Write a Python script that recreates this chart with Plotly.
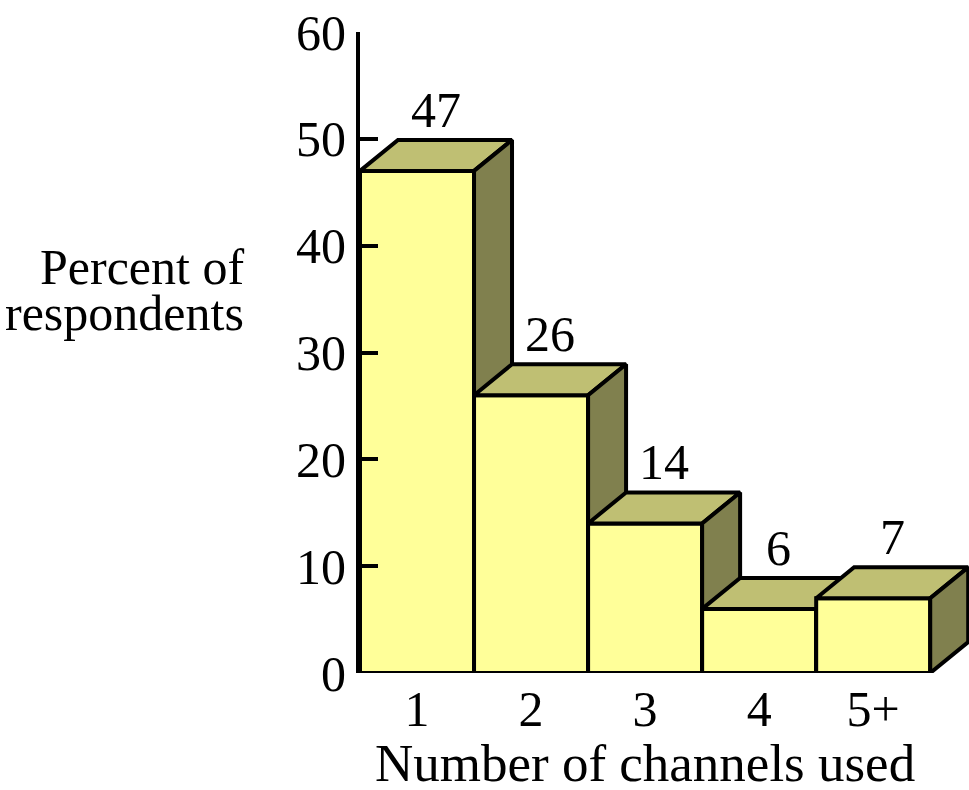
import plotly.graph_objects as go

categories = ["1", "2", "3", "4", "5+"]
values = [47, 26, 14, 6, 7]
y_ticks = [0, 10, 20, 30, 40, 50, 60]

FRONT = "#FFFF99"
TOP = "#BFBF73"
SIDE = "#80804E"
EDGE = "black"
LW = 4
DX = 0.333   # depth offset in x units
DY = 2.9     # depth offset in y units
HALF = 0.5
FONT = "Liberation Serif, Times New Roman, serif"
FS = 50

fig = go.Figure()

for i, v in enumerate(values):
    x0, x1 = i - HALF, i + HALF
    # front face
    fig.add_trace(go.Scatter(
        x=[x0, x1, x1, x0, x0], y=[0, 0, v, v, 0],
        mode="lines", fill="toself", fillcolor=FRONT,
        line=dict(color=EDGE, width=LW), hoverinfo="skip", showlegend=False))
    # top face
    fig.add_trace(go.Scatter(
        x=[x0, x1, x1 + DX, x0 + DX, x0], y=[v, v, v + DY, v + DY, v],
        mode="lines", fill="toself", fillcolor=TOP,
        line=dict(color=EDGE, width=LW), hoverinfo="skip", showlegend=False))
    # side face
    fig.add_trace(go.Scatter(
        x=[x1, x1 + DX, x1 + DX, x1, x1], y=[0, DY, v + DY, v, 0],
        mode="lines", fill="toself", fillcolor=SIDE,
        line=dict(color=EDGE, width=LW), hoverinfo="skip", showlegend=False))
    fig.add_annotation(x=i + DX / 2, y=v + DY, xref="x", yref="y",
                       text=str(v), showarrow=False, yanchor="bottom", yshift=0,
                       font=dict(family=FONT, size=FS, color="black"))

fig.add_annotation(x=-0.187, y=0.634, xref="paper", yref="paper", text="Percent of",
                   showarrow=False, xanchor="right", yanchor="middle",
                   font=dict(family=FONT, size=FS, color="black"))
fig.add_annotation(x=-0.187, y=0.561, xref="paper", yref="paper", text="respondents",
                   showarrow=False, xanchor="right", yanchor="middle",
                   font=dict(family=FONT, size=FS, color="black"))
fig.add_annotation(x=2, y=-0.141, xref="x", yref="paper", text="Number of channels used",
                   showarrow=False, xanchor="center", yanchor="middle",
                   font=dict(family=FONT, size=53, color="black"))

fig.update_layout(
    width=969, height=790,
    margin=dict(l=360, r=0, t=32, b=117),
    paper_bgcolor="white", plot_bgcolor="white",
    font=dict(family=FONT, size=FS, color="black"),
    xaxis=dict(range=[-0.5, 4.84], tickvals=list(range(len(categories))),
               ticktext=categories, showgrid=False, zeroline=False,
               showline=False, ticks="", ticklabelstandoff=2, fixedrange=True),
    yaxis=dict(range=[0, 60], tickvals=y_ticks, showgrid=False, zeroline=False,
               showline=True, linecolor="black", linewidth=LW,
               ticks="inside", ticklen=18, tickwidth=LW, tickcolor="black",
               fixedrange=True),
)

fig.write_html("out.html")
